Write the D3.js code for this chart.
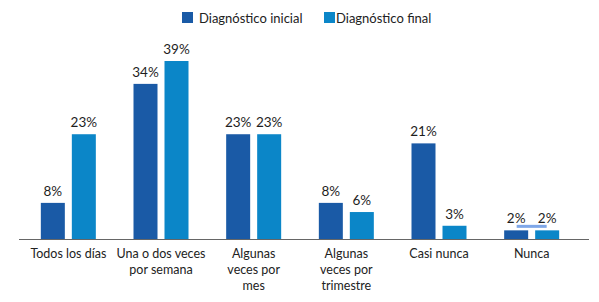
<!DOCTYPE html>
<html>
<head>
<meta charset="utf-8">
<script src="https://cdn.jsdelivr.net/npm/d3@7/dist/d3.min.js"></script>
<style>
  body { margin: 0; background: #fff; }
  text { font-family: Lato, "Open Sans", sans-serif; }
</style>
</head>
<body>
<div id="chart"></div>
<script>
// Data
const categories = ['Todos los días', 'Una o dos veces por semana', 'Algunas veces por mes',
    'Algunas veces por trimestre', 'Casi nunca', 'Nunca'];
const tickLines = [
    ['Todos los días'],
    ['Una o dos veces', 'por semana'],
    ['Algunas', 'veces por', 'mes'],
    ['Algunas', 'veces por', 'trimestre'],
    ['Casi nunca'],
    ['Nunca']
];
const seriesNames = ['Diagnóstico inicial', 'Diagnóstico final'];
const inicial = [8, 34, 23, 8, 21, 2];
const final = [23, 39, 23, 6, 3, 2];
const colors = ['#1a5aa6', '#0b86c8'];

function draw() {
    const width = 599, height = 302;
    const svg = d3.select('#chart').append('svg')
        .attr('width', width)
        .attr('height', height);

    const baseY = 239.5;
    const x = d3.scaleBand()
        .domain(categories)
        .range([22, 578]);
    const y = d3.scaleLinear()
        .domain([0, 39])
        .range([baseY, 61]);

    const barW = 24, gap = 7;
    const sub = d3.scaleOrdinal().domain([0, 1]).range([-gap / 2 - barW, gap / 2]);

    const rows = categories.map((c, i) => ({ cat: c, vals: [inicial[i], final[i]] }));

    const groups = svg.selectAll('g.grp')
        .data(rows)
        .enter().append('g')
        .attr('class', 'grp')
        .attr('transform', d => `translate(${x(d.cat) + x.bandwidth() / 2}, 0)`);

    // bars
    groups.selectAll('rect')
        .data(d => d.vals.map((v, s) => ({ v, s })))
        .enter().append('rect')
        .attr('x', d => sub(d.s))
        .attr('y', d => y(d.v))
        .attr('width', barW)
        .attr('height', d => baseY - y(d.v))
        .attr('fill', d => colors[d.s]);

    // value labels
    groups.selectAll('text.val')
        .data(d => d.vals.map((v, s) => ({ v, s })))
        .enter().append('text')
        .attr('class', 'val')
        .attr('x', d => sub(d.s) + barW / 2)
        .attr('y', d => y(d.v) - 7)
        .attr('text-anchor', 'middle')
        .attr('font-size', 13.5)
        .attr('fill', '#1e1e1e')
        .text(d => d.v + '%');

    // small light-blue stroke between the "Nunca" labels
    const nx = x('Nunca') + x.bandwidth() / 2;
    svg.append('rect')
        .attr('x', nx - 15)
        .attr('y', y(2) - 5.5)
        .attr('width', 30)
        .attr('height', 3)
        .attr('fill', '#7fa7e8');

    // axis line
    svg.append('line')
        .attr('x1', 19).attr('x2', 589)
        .attr('y1', baseY).attr('y2', baseY)
        .attr('stroke', '#666')
        .attr('stroke-width', 1.2);

    // category labels
    const xAxis = d3.axisBottom(x).tickSize(0).tickFormat('');
    const ax = svg.append('g')
        .attr('transform', `translate(0, ${baseY})`)
        .call(xAxis);
    ax.select('.domain').remove();
    ax.selectAll('.tick').each(function(d, i) {
        const t = d3.select(this).append('text')
            .attr('text-anchor', 'middle')
            .attr('font-size', 12.5)
            .attr('fill', '#222');
        tickLines[i].forEach((line, k) => {
            t.append('tspan')
                .attr('x', 0)
                .attr('y', 18 + k * 16)
                .text(line);
        });
    });

    // legend
    const legend = svg.append('g');
    const legendX = [182, 324];
    seriesNames.forEach((name, i) => {
        const g = legend.append('g').attr('transform', `translate(${legendX[i]}, 12)`);
        g.append('rect')
            .attr('width', 11)
            .attr('height', 11)
            .attr('fill', colors[i]);
        g.append('text')
            .attr('x', i === 0 ? 17 : 12)
            .attr('y', 10.5)
            .attr('font-size', 13)
            .attr('fill', '#222')
            .text(name);
    });
}
draw();
</script>
</body>
</html>
